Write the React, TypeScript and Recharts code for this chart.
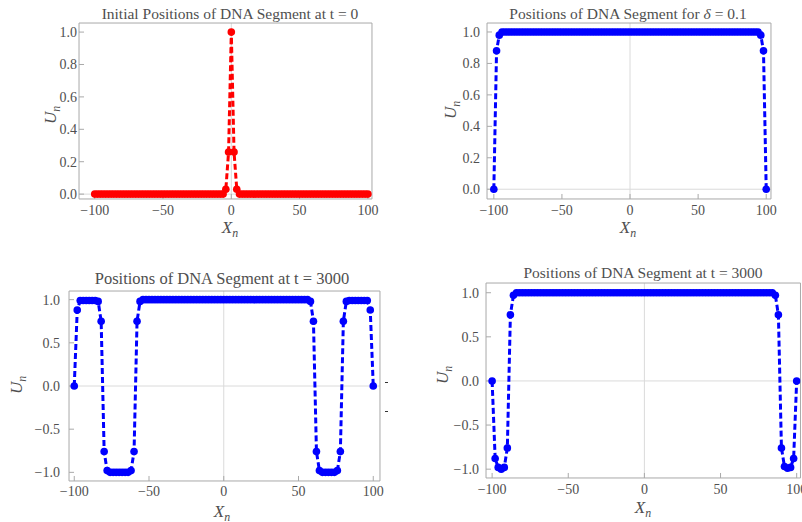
import React from "react";
import { LineChart, Line, XAxis, YAxis, ReferenceLine } from "recharts";

// lattice sites n, x positions
const xPositions = [
  -100, -98, -96, -94, -92, -90, -88, -86, -84, -82,
  -80, -78, -76, -74, -72, -70, -68, -66, -64, -62,
  -60, -58, -56, -54, -52, -50, -48, -46, -44, -42,
  -40, -38, -36, -34, -32, -30, -28, -26, -24, -22,
  -20, -18, -16, -14, -12, -10, -8, -6, -4, -2,
  0, 2, 4, 6, 8, 10, 12, 14, 16, 18,
  20, 22, 24, 26, 28, 30, 32, 34, 36, 38,
  40, 42, 44, 46, 48, 50, 52, 54, 56, 58,
  60, 62, 64, 66, 68, 70, 72, 74, 76, 78,
  80, 82, 84, 86, 88, 90, 92, 94, 96, 98,
  100,
];

const initialU = [
  0, 0, 0, 0, 0, 0, 0, 0, 0, 0,
  0, 0, 0, 0, 0, 0, 0, 0, 0, 0,
  0, 0, 0, 0, 0, 0, 0, 0, 0, 0,
  0, 0, 0, 0, 0, 0, 0, 0, 0, 0,
  0, 0, 0, 0, 0, 0, 0, 0, 0.03, 0.26,
  1, 0.26, 0.03, 0, 0, 0, 0, 0, 0, 0,
  0, 0, 0, 0, 0, 0, 0, 0, 0, 0,
  0, 0, 0, 0, 0, 0, 0, 0, 0, 0,
  0, 0, 0, 0, 0, 0, 0, 0, 0, 0,
  0, 0, 0, 0, 0, 0, 0, 0, 0, 0,
  0,
];

const deltaU = [
  0, 0.88, 0.98, 1, 1, 1, 1, 1, 1, 1,
  1, 1, 1, 1, 1, 1, 1, 1, 1, 1,
  1, 1, 1, 1, 1, 1, 1, 1, 1, 1,
  1, 1, 1, 1, 1, 1, 1, 1, 1, 1,
  1, 1, 1, 1, 1, 1, 1, 1, 1, 1,
  1, 1, 1, 1, 1, 1, 1, 1, 1, 1,
  1, 1, 1, 1, 1, 1, 1, 1, 1, 1,
  1, 1, 1, 1, 1, 1, 1, 1, 1, 1,
  1, 1, 1, 1, 1, 1, 1, 1, 1, 1,
  1, 1, 1, 1, 1, 1, 1, 1, 0.98, 0.88,
  0,
];

const lateU = [
  0, 0.88, 0.99, 0.99, 0.99, 0.99, 0.99, 0.99, 0.98, 0.75,
  -0.76, -0.98, -1, -1, -1, -1, -1, -1, -1, -0.98,
  -0.76, 0.75, 0.98, 1, 1, 1, 1, 1, 1, 1,
  1, 1, 1, 1, 1, 1, 1, 1, 1, 1,
  1, 1, 1, 1, 1, 1, 1, 1, 1, 1,
  1, 1, 1, 1, 1, 1, 1, 1, 1, 1,
  1, 1, 1, 1, 1, 1, 1, 1, 1, 1,
  1, 1, 1, 1, 1, 1, 1, 1, 1, 0.98,
  0.75, -0.76, -0.98, -1, -1, -1, -1, -1, -0.98, -0.76,
  0.75, 0.98, 0.99, 0.99, 0.99, 0.99, 0.99, 0.99, 0.99, 0.88,
  0,
];

const lateU2 = [
  0, -0.88, -0.98, -1, -0.98, -0.76, 0.75, 0.97, 1, 1,
  1, 1, 1, 1, 1, 1, 1, 1, 1, 1,
  1, 1, 1, 1, 1, 1, 1, 1, 1, 1,
  1, 1, 1, 1, 1, 1, 1, 1, 1, 1,
  1, 1, 1, 1, 1, 1, 1, 1, 1, 1,
  1, 1, 1, 1, 1, 1, 1, 1, 1, 1,
  1, 1, 1, 1, 1, 1, 1, 1, 1, 1,
  1, 1, 1, 1, 1, 1, 1, 1, 1, 1,
  1, 1, 1, 1, 1, 1, 1, 1, 1, 1,
  1, 1, 1, 0.97, 0.75, -0.76, -0.97, -0.99, -0.98, -0.88,
  0,
];

const xMajor = [-100, -50, 0, 50, 100];
const xMinor = [-100, -90, -80, -70, -60, -50, -40, -30, -20, -10, 0, 10, 20, 30, 40, 50, 60, 70, 80, 90, 100];
const unitMajor = [0, 0.2, 0.4, 0.6, 0.8, 1];
const unitMinor = [0, 0.05, 0.1, 0.15, 0.2, 0.25, 0.3, 0.35, 0.4, 0.45, 0.5, 0.55, 0.6, 0.65, 0.7, 0.75, 0.8, 0.85, 0.9, 0.95, 1];
const signedMajor = [-1, -0.5, 0, 0.5, 1];
const signedMinor = [-1, -0.9, -0.8, -0.7, -0.6, -0.5, -0.4, -0.3, -0.2, -0.1, 0, 0.1, 0.2, 0.3, 0.4, 0.5, 0.6, 0.7, 0.8, 0.9, 1];

const FRAME = "#a9a9a9";
const LABEL = "#4f4f4f";
const ORIGIN = "#dadada";
const SERIF = '"Liberation Serif", "DejaVu Serif", serif';
const RED = "#ff0000";
const BLUE = "#0000ff";

const fmtX = (v: number) => String(v).replace("-", "\u2212");
const fmtY = (v: number) => v.toFixed(1).replace("-", "\u2212");

const THIN = 0.01;

function Panel({
  left,
  top,
  width,
  height,
  frame,
  xDomain,
  yDomain,
  yMajor,
  yMinor,
  values,
  color,
  xGap,
  yGap,
}: {
  left: number;
  top: number;
  width: number;
  height: number;
  frame: [number, number, number, number];
  xDomain: [number, number];
  yDomain: [number, number];
  yMajor: number[];
  yMinor: number[];
  values: number[];
  color: string;
  xGap: number;
  yGap: number;
}) {
  const data = xPositions.map((x, i) => ({ x, u: values[i] }));
  const [fl, ft, fr, fb] = frame;
  const tickText = { fill: LABEL, fontSize: 14, fontFamily: SERIF, style: { fontFamily: SERIF } };
  return (
    <div style={{ position: "absolute", left, top, width, height, fontFamily: SERIF }}>
      <LineChart
        width={width}
        height={height}
        data={data}
        margin={{ top: ft, left: fl, right: width - fr, bottom: height - fb }}
      >
        <XAxis xAxisId="b" type="number" dataKey="x" domain={xDomain} allowDataOverflow
          ticks={xMajor} interval={0} height={THIN} tickSize={-5} tickMargin={xGap + 5}
          tick={tickText} tickFormatter={fmtX} stroke={FRAME} />
        <XAxis xAxisId="bm" type="number" dataKey="x" domain={xDomain} allowDataOverflow
          ticks={xMinor} interval={0} height={THIN} tickSize={-3} tick={false}
          axisLine={false} stroke={FRAME} />
        <XAxis xAxisId="t" orientation="top" type="number" dataKey="x" domain={xDomain}
          allowDataOverflow ticks={xMajor} interval={0} height={THIN} tickSize={-5}
          tick={false} stroke={FRAME} />
        <XAxis xAxisId="tm" orientation="top" type="number" dataKey="x" domain={xDomain}
          allowDataOverflow ticks={xMinor} interval={0} height={THIN} tickSize={-3}
          tick={false} axisLine={false} stroke={FRAME} />
        <YAxis yAxisId="l" type="number" domain={yDomain} allowDataOverflow ticks={yMajor}
          interval={0} width={THIN} tickSize={-5} tickMargin={yGap + 5} tick={tickText}
          tickFormatter={fmtY} stroke={FRAME} />
        <YAxis yAxisId="lm" type="number" domain={yDomain} allowDataOverflow ticks={yMinor}
          interval={0} width={THIN} tickSize={-3} tick={false} axisLine={false} stroke={FRAME} />
        <YAxis yAxisId="r" orientation="right" type="number" domain={yDomain} allowDataOverflow
          ticks={yMajor} interval={0} width={THIN} tickSize={-5} tick={false} stroke={FRAME} />
        <YAxis yAxisId="rm" orientation="right" type="number" domain={yDomain} allowDataOverflow
          ticks={yMinor} interval={0} width={THIN} tickSize={-3} tick={false} axisLine={false}
          stroke={FRAME} />
        <ReferenceLine xAxisId="b" yAxisId="l" x={0} stroke={ORIGIN} strokeWidth={1} />
        <ReferenceLine xAxisId="b" yAxisId="l" y={0} stroke={ORIGIN} strokeWidth={1} />
        <Line
          xAxisId="b"
          yAxisId="l"
          type="linear"
          dataKey="u"
          stroke={color}
          strokeWidth={3}
          strokeDasharray="6 3"
          dot={{ r: 3.8, fill: color, stroke: "none" }}
          activeDot={false}
          isAnimationActive={false}
        />
      </LineChart>
    </div>
  );
}

function Caption({
  x,
  y,
  size,
  rotate,
  children,
}: {
  x: number;
  y: number;
  size: number;
  rotate?: boolean;
  children: React.ReactNode;
}) {
  return (
    <div
      style={{
        position: "absolute",
        left: x,
        top: y,
        transform: `translate(-50%, -50%)${rotate ? " rotate(-90deg)" : ""}`,
        whiteSpace: "nowrap",
        fontFamily: SERIF,
        fontSize: size,
        color: LABEL,
        lineHeight: 1,
      }}
    >
      {children}
    </div>
  );
}

const Sub = ({ children }: { children: React.ReactNode }) => (
  <span style={{ fontSize: "0.7em", position: "relative", top: "0.3em", fontStyle: "italic" }}>
    {children}
  </span>
);

const UN = (
  <>
    <i>U</i>
    <Sub>n</Sub>
  </>
);
const XN = (
  <>
    <i>X</i>
    <Sub>n</Sub>
  </>
);

export default function App() {
  return (
    <div
      style={{
        position: "absolute",
        left: 0,
        top: 0,
        width: 802,
        height: 522,
        overflow: "hidden",
        background: "#fff",
      }}
    >
      <Panel left={0} top={0} width={400} height={260} frame={[79, 23, 372, 199]}
        xDomain={[-111.5, 103]} yDomain={[-0.03, 1.056]} yMajor={unitMajor} yMinor={unitMinor}
        values={initialU} color={RED} xGap={6} yGap={2} />
      <Panel left={400} top={0} width={402} height={260} frame={[87, 23, 371, 199]}
        xDomain={[-105, 103.5]} yDomain={[-0.062, 1.057]} yMajor={unitMajor} yMinor={unitMinor}
        values={deltaU} color={BLUE} xGap={6} yGap={7} />
      <Panel left={0} top={260} width={400} height={262} frame={[69, 31, 380, 221]}
        xDomain={[-103.5, 104.5]} yDomain={[-1.1, 1.1]} yMajor={signedMajor} yMinor={signedMinor}
        values={lateU} color={BLUE} xGap={5} yGap={9} />
      <Panel left={400} top={260} width={402} height={262} frame={[86, 23, 400.5, 218]}
        xDomain={[-104, 102.5]} yDomain={[-1.1, 1.11]} yMajor={signedMajor} yMinor={signedMinor}
        values={lateU2} color={BLUE} xGap={6} yGap={7} />

      <Caption x={230} y={14} size={15.5}>Initial Positions of DNA Segment at t = 0</Caption>
      <Caption x={628} y={14} size={15.5}>
        Positions of DNA Segment for <i>δ</i> = 0.1
      </Caption>
      <Caption x={222} y={279} size={16.5}>Positions of DNA Segment at t = 3000</Caption>
      <Caption x={643} y={273} size={15.5}>Positions of DNA Segment at t = 3000</Caption>

      <Caption x={50} y={115} size={17} rotate>{UN}</Caption>
      <Caption x={450} y={110} size={17} rotate>{UN}</Caption>
      <Caption x={16} y={385} size={17} rotate>{UN}</Caption>
      <Caption x={442} y={375} size={17} rotate>{UN}</Caption>

      <Caption x={230} y={227} size={17}>{XN}</Caption>
      <Caption x={628} y={227} size={17}>{XN}</Caption>
      <Caption x={222} y={511} size={17}>{XN}</Caption>
      <Caption x={643} y={507} size={17}>{XN}</Caption>

      <div style={{ position: "absolute", left: 385, top: 382, width: 3, height: 1, background: "#333" }} />
      <div style={{ position: "absolute", left: 385, top: 411, width: 3, height: 1, background: "#333" }} />
    </div>
  );
}
